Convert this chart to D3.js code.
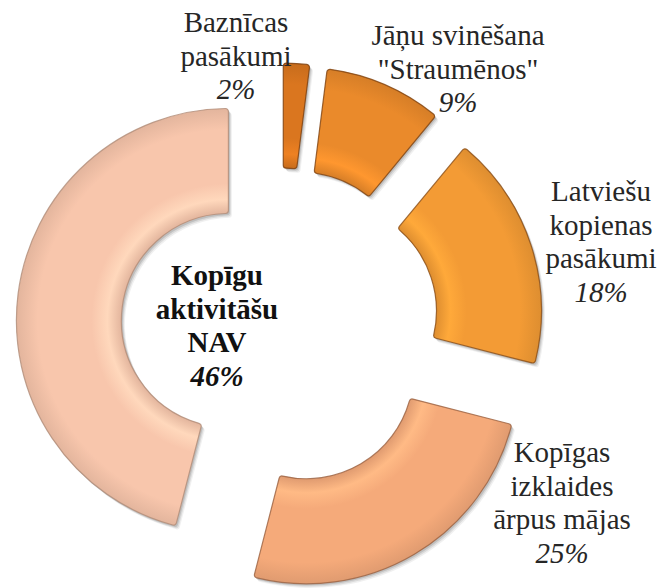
<!DOCTYPE html>
<html>
<head>
<meta charset="utf-8">
<script src="https://cdn.jsdelivr.net/npm/d3@7"></script>
<style>
  html, body { margin: 0; padding: 0; background: #ffffff; }
  svg { display: block; }
</style>
</head>
<body>
<svg id="chart" width="662" height="588"></svg>
<script>
// ---- data ----
const categories = [
  "Baznīcas pasākumi",
  "Jāņu svinēšana \"Straumēnos\"",
  "Latviešu kopienas pasākumi",
  "Kopīgas izklaides ārpus mājas",
  "Kopīgu aktivitāšu NAV"
];
const labelLines = [
  ["Baznīcas", "pasākumi"],
  ["Jāņu svinēšana", "\"Straumēnos\""],
  ["Latviešu", "kopienas", "pasākumi"],
  ["Kopīgas", "izklaides", "ārpus mājas"],
  ["Kopīgu", "aktivitāšu", "NAV"]
];
const values = [2, 9, 18, 25, 46];
const percentLabels = ["2%", "9%", "18%", "25%", "46%"];

// ---- layout / style (not data) ----
const colors = ["#DA761F", "#EA8A2B", "#F39B35", "#F5AA7A", "#F8C6AC"];
const strokeColors = ["#7a3d0c", "#80420f", "#8a4c14", "#9a6040", "#b08c78"];
const cx = 280, cy = 327;
const outerR = 212, innerR = 107, explode = 52;
const fontSize = 29, lineH = 33.5;
const labelAnchor = [
  [-44, -295], [178, -282], [321, -126], [282, 135], [-63, -42]
];
const boldLabel = [false, false, false, false, true];

const svg = d3.select("#chart");
const defs = svg.append("defs");

colors.forEach((c, i) => {
  const g = defs.append("radialGradient").attr("id", "grad" + i)
    .attr("gradientUnits", "userSpaceOnUse")
    .attr("cx", 0).attr("cy", 0).attr("r", outerR);
  const lighter = d3.color(c).brighter(0.25).formatHex();
  const darker = d3.color(c).darker(0.25).formatHex();
  g.append("stop").attr("offset", innerR / outerR).attr("stop-color", darker);
  g.append("stop").attr("offset", (innerR + 14) / outerR).attr("stop-color", lighter);
  g.append("stop").attr("offset", (innerR + 30) / outerR).attr("stop-color", c);
  g.append("stop").attr("offset", 0.9).attr("stop-color", c);
  g.append("stop").attr("offset", 1).attr("stop-color", darker);
});

const pie = d3.pie().sort(null).value(d => d).startAngle(0).endAngle(2 * Math.PI);
const arcs = pie(values);
const arc = d3.arc().innerRadius(innerR).outerRadius(outerR).cornerRadius(3);

const slices = svg.selectAll("g.slice").data(arcs).enter().append("g")
  .attr("class", "slice")
  .attr("transform", d => {
    const m = (d.startAngle + d.endAngle) / 2;
    return `translate(${cx + explode * Math.sin(m)},${cy - explode * Math.cos(m)})`;
  });

// soft shadow made of offset translucent copies (no SVG filter)
[[3.5, 0.06], [2.5, 0.09], [1.5, 0.12]].forEach(([o, a]) => {
  slices.append("path")
    .attr("d", arc)
    .attr("transform", `translate(${o},${o * 1.2})`)
    .attr("fill", "#000")
    .attr("fill-opacity", a);
});

slices.append("path")
  .attr("d", arc)
  .attr("fill", (d, i) => `url(#grad${i})`)
  .attr("stroke", (d, i) => strokeColors[i])
  .attr("stroke-width", 1.2)
  .attr("stroke-opacity", 0.8);

// labels
arcs.forEach((d, i) => {
  const lines = labelLines[i].concat([percentLabels[i]]);
  const t = svg.append("text")
    .attr("font-family", "Liberation Serif")
    .attr("font-size", fontSize)
    .attr("text-anchor", "middle")
    .attr("fill", boldLabel[i] ? "#111111" : "#262626");
  if (boldLabel[i]) t.attr("font-weight", "bold");
  lines.forEach((ln, k) => {
    const s = t.append("tspan")
      .attr("x", cx + labelAnchor[i][0])
      .attr("y", cy + labelAnchor[i][1] + k * lineH)
      .text(ln);
    if (k === lines.length - 1) s.attr("font-style", "italic");
  });
});
</script>
</body>
</html>
